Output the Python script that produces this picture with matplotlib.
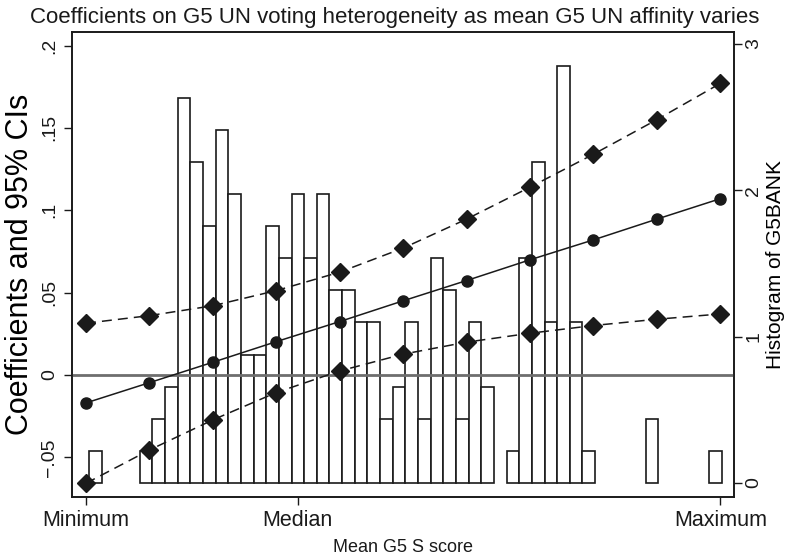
import numpy as np
import matplotlib
matplotlib.use('Agg')
import matplotlib.pyplot as plt

plt.rcParams['font.family'] = ['Liberation Sans', 'DejaVu Sans']

# evaluation points of mean G5 UN affinity (0 = minimum, 10 = maximum)
pos = np.arange(11)
coef = [-0.017, -0.0047, 0.0077, 0.0202, 0.0324, 0.045, 0.0573, 0.0699, 0.082, 0.0946, 0.107]
ci_hi = [0.0314, 0.036, 0.042, 0.0512, 0.0624, 0.077, 0.0946, 0.114, 0.134, 0.155, 0.177]
ci_lo = [-0.0658, -0.0456, -0.0273, -0.0107, 0.0024, 0.0126, 0.0199, 0.0253, 0.030, 0.0338, 0.037]

# histogram of G5BANK (counts per bin, 50 bins)
hist_counts = [1, 0, 0, 0, 1, 2, 3, 12, 10, 8,
               11, 9, 4, 4, 8, 7, 9, 7, 9, 6,
               6, 5, 5, 2, 3, 5, 2, 7, 6, 2,
               5, 3, 0, 1, 7, 10, 5, 13, 5, 1,
               0, 0, 0, 0, 2, 0, 0, 0, 0, 1]
hist_lo, hist_hi = 0.05, 10.02
density_per_obs = 0.2193

xtick_pos = [0, 3.34, 10]
xtick_lab = ['Minimum', 'Median', 'Maximum']
ytick_pos = [-0.05, 0, 0.05, 0.1, 0.15, 0.2]
ytick_lab = ['\u2212.05', '0', '.05', '.1', '.15', '.2']

ink = '#1a1a1a'

fig = plt.figure(figsize=(7.88, 5.59), dpi=100)
ax = fig.add_axes([0.092, 0.111, 0.839, 0.832])
ax2 = ax.twinx()

# histogram behind
edges = np.linspace(hist_lo, hist_hi, len(hist_counts) + 1)
dens = np.array(hist_counts) * density_per_obs
keep = dens > 0
ax2.bar(edges[:-1][keep], dens[keep], width=edges[1] - edges[0], align='edge',
        facecolor='white', edgecolor=ink, linewidth=1.2)
ax2.set_ylim(-0.096, 3.082)
ax2.set_yticks([0, 1, 2, 3])
ax2.set_yticklabels(['0', '1', '2', '3'], rotation=90, va='center')
ax2.set_ylabel('Histogram of G5BANK', fontsize=15, rotation=90, va='center')
ax2.yaxis.set_label_coords(1.064, 0.5)

ax.set_zorder(ax2.get_zorder() + 1)
ax.patch.set_visible(False)

ax.axhline(0, color='#6e6e6e', linewidth=2.0, zorder=1)
ax.plot(pos, ci_hi, color=ink, linewidth=1.1, dashes=(6.5, 4),
        marker='D', markersize=9.5, zorder=3)
ax.plot(pos, coef, color=ink, linewidth=1.1, marker='o', markersize=8, zorder=3)
ax.plot(pos, ci_lo, color=ink, linewidth=1.1, dashes=(6.5, 4),
        marker='D', markersize=9.5, zorder=3)

ax.set_xlim(-0.213, 10.21)
ax.set_ylim(-0.0741, 0.2083)
ax.set_xticks(xtick_pos)
ax.set_xticklabels(xtick_lab, fontsize=15.5)
ax.set_yticks(ytick_pos)
ax.set_yticklabels(ytick_lab, rotation=90, va='center', fontsize=14)
ax.set_ylabel('Coefficients and 95% CIs', fontsize=22, labelpad=4)

for a in (ax, ax2):
    a.tick_params(direction='out', length=5.5, width=1.0, color=ink, labelcolor=ink)
    for s in a.spines.values():
        s.set_color(ink)
        s.set_linewidth(1.2)
ax.tick_params(axis='y', pad=5)
ax2.tick_params(axis='y', labelsize=14, pad=3)
ax.tick_params(axis='x', pad=4)

fig.text(0.501, 0.968, 'Coefficients on G5 UN voting heterogeneity as mean G5 UN affinity varies',
         ha='center', va='center', fontsize=16, color=ink)
fig.text(0.511, 0.02, 'Mean G5 S score', ha='center', va='center', fontsize=13, color=ink)

fig.savefig('out.png', dpi=100)
